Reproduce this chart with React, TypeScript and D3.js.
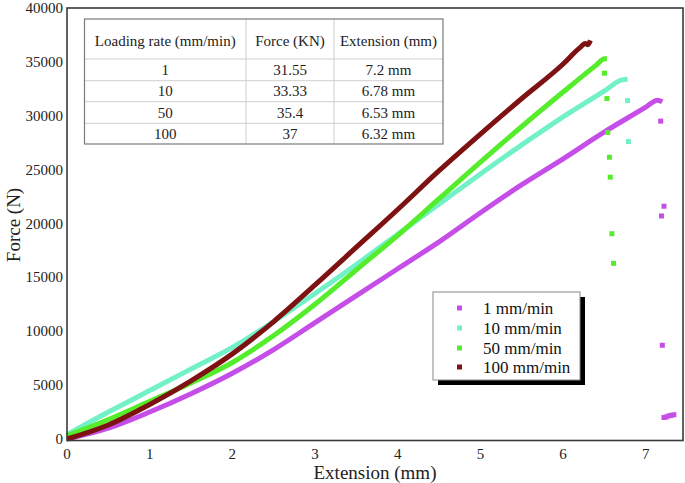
import React from "react";
import * as d3 from "d3";

type Pt = [number, number];

const xTicks = [0, 1, 2, 3, 4, 5, 6, 7];
const yTicks = [0, 5000, 10000, 15000, 20000, 25000, 30000, 35000, 40000];

const seriesNames = ["1 mm/min", "10 mm/min", "50 mm/min", "100 mm/min"];
const seriesColors = ["#c64ee8", "#72f0c8", "#55ec2c", "#7e1212"];

const rate1: Pt[] = [
  [0, 0], [0.5, 1000], [1.0, 2500], [1.5, 4200], [2.0, 6100], [2.5, 8300],
  [3.0, 10800], [3.5, 13300], [4.0, 15800], [4.5, 18300], [5.0, 21000],
  [5.5, 23600], [6.0, 26000], [6.5, 28500], [7.0, 30800], [7.14, 31450], [7.2, 31300],
];
const rate10: Pt[] = [
  [0, 400], [0.5, 2500], [1.0, 4500], [1.5, 6500], [2.0, 8500], [2.5, 10900],
  [3.0, 13500], [3.5, 16200], [4.0, 19000], [4.5, 21800], [5.0, 24600],
  [5.5, 27300], [6.0, 29900], [6.5, 32300], [6.7, 33300], [6.78, 33400],
];
const rate50: Pt[] = [
  [0, 300], [0.5, 1800], [1.0, 3500], [1.5, 5200], [2.0, 7100], [2.5, 9600],
  [3.0, 12500], [3.5, 15700], [4.0, 18900], [4.5, 22300], [5.0, 25700],
  [5.5, 29000], [6.0, 32200], [6.4, 34700], [6.5, 35300], [6.53, 35300],
];
const rate100: Pt[] = [
  [0, 0], [0.5, 1300], [1.0, 3200], [1.5, 5400], [2.0, 7900], [2.5, 10900],
  [3.0, 14300], [3.5, 17800], [4.0, 21300], [4.5, 24900], [5.0, 28300],
  [5.5, 31600], [6.0, 34800], [6.2, 36300], [6.27, 36700], [6.3, 36600], [6.33, 37000],
];

const fail1: Pt[] = [
  [7.18, 29500], [7.22, 21600], [7.19, 20700], [7.2, 8700],
  [7.22, 2000], [7.25, 2050], [7.28, 2150], [7.31, 2200], [7.34, 2250],
];
const fail10: Pt[] = [[6.78, 31400], [6.79, 27600]];
const fail50: Pt[] = [
  [6.5, 33950], [6.53, 31600], [6.54, 28450], [6.56, 26150],
  [6.57, 24300], [6.59, 19050], [6.61, 16300],
];

const curves = [rate1, rate10, rate50, rate100];
const failures = [fail1, fail10, fail50, [] as Pt[]];

const tableHeader = ["Loading rate (mm/min)", "Force (KN)", "Extension (mm)"];
const tableRates = ["1", "10", "50", "100"];
const tableForces = ["31.55", "33.33", "35.4", "37"];
const tableExt = ["7.2 mm", "6.78 mm", "6.53 mm", "6.32 mm"];

const FONT = "'Liberation Serif', 'DejaVu Serif', serif";

export default function App() {
  const W = 685, H = 483;
  const left = 67, right = 683, top = 8, bottom = 439;
  const x = d3.scaleLinear().domain([0, 7.45]).range([left, right]);
  const y = d3.scaleLinear().domain([0, 40000]).range([bottom, top]);
  const line = d3
    .line<Pt>()
    .x((d) => x(d[0]))
    .y((d) => y(d[1]))
    .curve(d3.curveMonotoneX);

  const colX = [84.5, 246, 334, 443];
  const rowY = [19, 59, 80.7, 101.7, 123.3, 144];

  const legX = 433, legY = 292, legW = 147, legH = 88;
  const legRows = [308, 328, 348, 367];

  return (
    <svg
      width={W}
      height={H}
      style={{ position: "absolute", left: 0, top: 0, background: "#fff" }}
      fontFamily={FONT}
    >
      <rect x={0} y={0} width={W} height={H} fill="#fff" />
      {curves.map((c, i) => (
        <path
          key={"c" + i}
          d={line(c) || ""}
          fill="none"
          stroke={seriesColors[i]}
          strokeWidth={5}
          strokeLinejoin="round"
        />
      ))}
      {failures.map((f, i) =>
        f.map((p, j) => (
          <rect
            key={"f" + i + "-" + j}
            x={x(p[0]) - 2.5}
            y={y(p[1]) - 2.5}
            width={5}
            height={5}
            fill={seriesColors[i]}
          />
        ))
      )}
      <rect
        x={left}
        y={top}
        width={right - left}
        height={bottom + 1.5 - top}
        fill="none"
        stroke="#3a3a3a"
        strokeWidth={1.6}
      />
      {yTicks.map((t) => (
        <text
          key={"y" + t}
          x={63}
          y={y(t)}
          textAnchor="end"
          dominantBaseline="central"
          fontSize={15}
          fill="#222"
        >
          {t}
        </text>
      ))}
      {xTicks.map((t) => (
        <text
          key={"x" + t}
          x={x(t)}
          y={454}
          textAnchor="middle"
          dominantBaseline="central"
          fontSize={15}
          fill="#222"
        >
          {t}
        </text>
      ))}
      <text x={375} y={472} textAnchor="middle" dominantBaseline="central" fontSize={19} fill="#222">
        Extension (mm)
      </text>
      <text
        transform={`translate(13,225) rotate(-90)`}
        textAnchor="middle"
        dominantBaseline="central"
        fontSize={19}
        fill="#222"
      >
        Force (N)
      </text>

      <rect x={colX[0]} y={rowY[0]} width={colX[3] - colX[0]} height={rowY[5] - rowY[0]} fill="#fff" />
      {rowY.slice(1, 5).map((ry, i) => (
        <line key={"rl" + i} x1={colX[0]} x2={colX[3]} y1={ry} y2={ry} stroke="#cfcfcf" strokeWidth={1} />
      ))}
      {colX.slice(1, 3).map((cx, i) => (
        <line key={"cl" + i} x1={cx} x2={cx} y1={rowY[0]} y2={rowY[5]} stroke="#cfcfcf" strokeWidth={1} />
      ))}
      <rect
        x={colX[0]}
        y={rowY[0]}
        width={colX[3] - colX[0]}
        height={rowY[5] - rowY[0]}
        fill="none"
        stroke="#7a7a7a"
        strokeWidth={1.2}
      />
      {tableHeader.map((h, i) => (
        <text
          key={"th" + i}
          x={(colX[i] + colX[i + 1]) / 2}
          y={41}
          textAnchor="middle"
          dominantBaseline="central"
          fontSize={15}
          fill="#222"
        >
          {h}
        </text>
      ))}
      {tableRates.map((r, i) => {
        const cy = (rowY[i + 1] + rowY[i + 2]) / 2;
        const vals = [r, tableForces[i], tableExt[i]];
        return vals.map((v, j) => (
          <text
            key={"td" + i + "-" + j}
            x={(colX[j] + colX[j + 1]) / 2}
            y={cy}
            textAnchor="middle"
            dominantBaseline="central"
            fontSize={15}
            fill="#222"
          >
            {v}
          </text>
        ));
      })}

      <rect x={legX + 5} y={legY + 5} width={legW} height={legH} fill="#000" />
      <rect x={legX} y={legY} width={legW} height={legH} fill="#fff" stroke="#888" strokeWidth={1} />
      {seriesNames.map((n, i) => (
        <g key={"lg" + i}>
          <rect x={457} y={legRows[i] - 2.5} width={5} height={5} fill={seriesColors[i]} />
          <text x={483} y={legRows[i]} dominantBaseline="central" fontSize={17} fill="#111">
            {n}
          </text>
        </g>
      ))}
    </svg>
  );
}
